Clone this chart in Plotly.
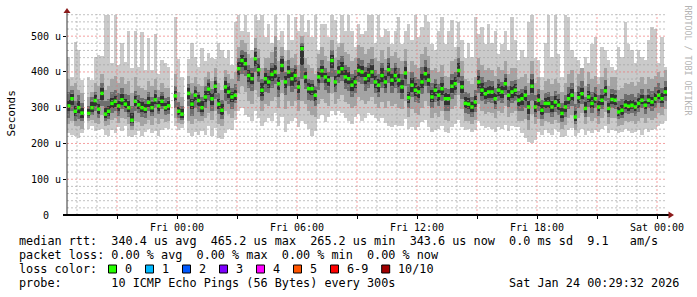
import plotly.graph_objects as go
import pandas as pd

# ---- data (seconds in microseconds, 10-minute steps starting Thu 2026-01-22 18:30) ----
med = [
    305, 325, 290, 300, 285, None, 284, 300, 320, 296,
    340, 282, 290, 312, 318, 305, 322, 310, 300, 265,
    318, 308, 300, 296, 315, 300, 322, 305, 318, 300,
    305, None, 333, 290, 282, None, 340, 310, 335, 320,
    300, 330, 352, 325, 360, 310, 293, 358, 344, 330,
    335, 409, 432, 423, 390, 381, 437, 406, 349, 381,
    372, 393, 400, 367, 418, 372, 400, 381, 390, 358,
    465, 386, 353, 353, 335, 386, 403, 386, 377, 432,
    372, 400, 409, 386, 381, 363, 372, 404, 400, 381,
    390, 400, 372, 363, 390, 372, 406, 377, 390, 377,
    358, 397, 328, 363, 349, 344, 372, 395, 377, 330,
    349, 335, 353, 325, 325, 360, 367, 404, 358, 312,
    310, 302, 316, 372, 349, 339, 344, 344, 325, 349,
    344, 367, 335, 344, 349, 321, 325, 335, 302, 360,
    302, 321, 293, 312, 312, 302, 316, 307, 284, 302,
    325, 335, 274, 328, 339, 298, 330, 312, 325, 302,
    321, 347, 298, 323, 321, 288, 293, 307, 304, 307,
    302, 312, 321, 307, 321, 316, 325, 335, 325, 344,
]
hi1 = [
    442, 385, 485, 460, 378, None, 386, 378, 442, 448,
    445, 558, 558, 425, 558, 420, 480, 428, 515, 410,
    515, 415, 512, 405, 495, 405, 505, 395, 432, 425,
    415, None, 555, 435, 385, None, 435, 480, 442, 415,
    468, 430, 452, 440, 435, 480, 462, 440, 462, 420,
    540, 558, 515, 558, 512, 462, 558, 545, 558, 498,
    535, 480, 558, 488, 515, 462, 558, 488, 555, 515,
    558, 512, 545, 498, 558, 462, 535, 535, 498, 558,
    545, 480, 558, 515, 558, 515, 470, 535, 505, 515,
    558, 558, 480, 558, 498, 520, 515, 478, 515, 555,
    478, 515, 535, 488, 558, 498, 525, 558, 540, 478,
    460, 515, 555, 478, 515, 545, 470, 540, 488, 440,
    480, 442, 555, 505, 525, 478, 535, 480, 515, 450,
    478, 515, 462, 555, 488, 432, 460, 442, 540, 558,
    440, 432, 385, 480, 558, 442, 558, 450, 386, 558,
    555, 460, 442, 432, 395, 442, 425, 478, 498, 385,
    470, 462, 432, 415, 405, 470, 442, 540, 478, 460,
    425, 460, 442, 432, 488, 525, 520, 425, 498, 415,
]
lo1 = [
    230, 225, 220, 215, 228, None, 240, 250, 235, 238,
    240, 225, 220, 238, 230, 245, 235, 250, 222, 218,
    225, 235, 220, 232, 240, 228, 235, 220, 238, 242,
    240, None, 248, 238, 242, None, 228, 222, 232, 225,
    235, 225, 248, 222, 242, 215, 212, 230, 240, 238,
    265, 290, 300, 280, 275, 262, 290, 270, 248, 260,
    270, 262, 285, 250, 275, 232, 255, 262, 270, 245,
    262, 255, 240, 220, 235, 268, 280, 260, 275, 290,
    280, 290, 285, 270, 262, 255, 275, 282, 262, 270,
    285, 280, 272, 262, 270, 258, 248, 245, 252, 250,
    250, 268, 240, 245, 238, 245, 260, 265, 245, 232,
    238, 240, 248, 232, 228, 245, 255, 265, 245, 238,
    240, 232, 238, 262, 250, 242, 245, 240, 232, 245,
    240, 252, 235, 248, 245, 246, 230, 215, 205, 200,
    210, 232, 225, 238, 230, 225, 240, 232, 218, 222,
    238, 242, 220, 230, 240, 225, 235, 228, 238, 232,
    240, 248, 230, 238, 235, 228, 232, 240, 236, 230,
    232, 238, 225, 240, 232, 238, 240, 250, 255, 262,
]
hi2 = [
    380, 360, 370, 350, 340, None, 330, 345, 370, 360,
    395, 350, 360, 380, 390, 370, 385, 365, 375, 340,
    385, 360, 355, 350, 375, 360, 380, 350, 370, 355,
    355, None, 395, 345, 330, None, 390, 370, 385, 365,
    360, 385, 400, 375, 410, 370, 350, 405, 395, 380,
    400, 470, 490, 480, 450, 440, 495, 465, 410, 440,
    440, 455, 500, 430, 470, 430, 460, 440, 450, 420,
    500, 440, 420, 410, 395, 450, 470, 445, 430, 490,
    440, 470, 480, 455, 450, 430, 440, 475, 470, 450,
    465, 470, 440, 430, 460, 435, 470, 445, 455, 440,
    430, 465, 400, 430, 420, 410, 450, 470, 445, 405,
    410, 400, 420, 390, 385, 430, 435, 470, 430, 380,
    375, 365, 385, 440, 420, 405, 410, 405, 390, 415,
    405, 430, 395, 410, 410, 380, 385, 395, 370, 430,
    370, 385, 350, 375, 380, 365, 380, 370, 345, 370,
    395, 405, 345, 395, 410, 360, 400, 380, 390, 365,
    385, 410, 360, 385, 385, 350, 355, 370, 365, 372,
    360, 372, 385, 365, 385, 380, 390, 400, 385, 405,
]
lo2 = [
    255, 262, 248, 250, 240, None, 262, 265, 258, 255,
    280, 248, 252, 265, 270, 258, 272, 268, 255, 238,
    262, 260, 250, 255, 265, 252, 270, 255, 268, 260,
    262, None, 270, 258, 255, None, 262, 255, 268, 262,
    262, 272, 285, 265, 292, 255, 250, 290, 282, 270,
    290, 340, 360, 345, 320, 310, 350, 330, 290, 310,
    305, 320, 330, 300, 340, 295, 318, 305, 318, 290,
    320, 310, 290, 280, 275, 310, 325, 312, 305, 340,
    310, 325, 335, 315, 310, 300, 305, 330, 322, 310,
    320, 330, 310, 300, 315, 300, 318, 305, 310, 300,
    295, 320, 275, 295, 285, 280, 300, 318, 305, 272,
    285, 275, 290, 265, 262, 295, 305, 335, 295, 262,
    262, 255, 265, 310, 290, 282, 288, 285, 270, 290,
    285, 305, 275, 285, 290, 262, 262, 268, 238, 282,
    255, 268, 248, 262, 260, 255, 265, 258, 240, 252,
    270, 280, 238, 272, 285, 255, 275, 262, 270, 255,
    270, 288, 255, 272, 270, 250, 252, 262, 260, 262,
    255, 262, 270, 258, 270, 265, 272, 285, 280, 295,
]
hi3 = [
    345, 350, 320, 335, 312, None, 305, 330, 345, 325,
    370, 320, 325, 345, 350, 340, 355, 338, 335, 305,
    348, 335, 328, 325, 345, 330, 350, 330, 345, 328,
    330, None, 360, 315, 305, None, 365, 340, 362, 345,
    330, 360, 380, 352, 385, 340, 322, 385, 370, 355,
    365, 440, 462, 455, 420, 410, 468, 438, 380, 412,
    405, 425, 470, 395, 445, 400, 432, 410, 420, 385,
    480, 410, 380, 378, 362, 412, 432, 410, 400, 460,
    405, 432, 445, 420, 415, 395, 405, 440, 432, 415,
    425, 435, 405, 395, 425, 405, 440, 410, 425, 410,
    395, 430, 365, 400, 385, 380, 415, 432, 412, 370,
    380, 365, 385, 355, 352, 395, 400, 438, 390, 345,
    340, 330, 350, 405, 385, 372, 378, 375, 355, 380,
    372, 395, 362, 375, 378, 348, 352, 362, 335, 395,
    335, 352, 322, 342, 345, 332, 348, 338, 312, 335,
    358, 370, 310, 362, 375, 330, 365, 345, 358, 335,
    352, 378, 328, 352, 350, 320, 325, 338, 335, 338,
    330, 342, 352, 336, 352, 348, 358, 368, 355, 375,
]
lo3 = [
    272, 290, 262, 268, 262, None, 270, 280, 290, 272,
    305, 262, 268, 285, 292, 278, 295, 288, 275, 248,
    290, 285, 275, 272, 290, 278, 298, 282, 295, 280,
    282, None, 300, 270, 265, None, 305, 278, 300, 288,
    278, 300, 318, 290, 325, 282, 268, 320, 310, 295,
    312, 375, 395, 388, 355, 348, 400, 372, 318, 345,
    340, 355, 365, 330, 378, 335, 360, 345, 352, 322,
    380, 352, 322, 318, 305, 350, 368, 350, 342, 385,
    345, 368, 375, 352, 348, 330, 340, 372, 365, 348,
    355, 365, 340, 330, 355, 340, 368, 342, 355, 340,
    325, 360, 298, 330, 315, 312, 338, 360, 340, 298,
    315, 305, 320, 292, 290, 325, 335, 370, 325, 285,
    282, 275, 288, 340, 318, 310, 315, 312, 295, 320,
    312, 335, 302, 312, 318, 290, 292, 298, 265, 318,
    275, 292, 268, 285, 285, 275, 288, 280, 260, 275,
    295, 305, 255, 298, 310, 275, 302, 285, 298, 278,
    295, 318, 275, 298, 295, 268, 272, 285, 282, 284,
    278, 288, 298, 282, 298, 292, 300, 312, 302, 320,
]
hi4 = [
    322, 338, 305, 318, 300, None, 296, 315, 335, 310,
    355, 300, 306, 328, 334, 320, 338, 325, 318, 285,
    332, 322, 315, 310, 330, 315, 338, 320, 332, 312,
    318, None, 348, 302, 295, None, 355, 325, 350, 335,
    318, 348, 368, 342, 375, 325, 310, 375, 360, 345,
    350, 428, 448, 440, 405, 398, 455, 422, 368, 398,
    390, 412, 420, 385, 435, 390, 418, 400, 408, 375,
    472, 400, 368, 366, 350, 400, 418, 398, 390, 448,
    390, 418, 428, 405, 400, 382, 390, 422, 418, 400,
    410, 420, 390, 380, 410, 390, 425, 395, 410, 395,
    378, 415, 345, 382, 368, 362, 395, 415, 395, 350,
    365, 350, 370, 340, 338, 378, 385, 425, 375, 330,
    326, 316, 334, 390, 368, 356, 362, 360, 342, 366,
    360, 382, 350, 360, 365, 336, 340, 350, 320, 380,
    320, 338, 308, 328, 330, 318, 334, 324, 300, 320,
    342, 352, 292, 345, 356, 315, 348, 330, 342, 318,
    336, 362, 312, 338, 335, 303, 308, 322, 319, 322,
    316, 326, 336, 320, 336, 330, 340, 350, 340, 358,
]
lo4 = [
    290, 308, 276, 285, 272, None, 276, 288, 305, 282,
    322, 270, 278, 298, 302, 292, 308, 298, 288, 258,
    305, 295, 288, 284, 302, 288, 310, 292, 306, 290,
    294, None, 318, 280, 272, None, 325, 295, 318, 305,
    288, 315, 335, 308, 342, 295, 280, 340, 328, 315,
    322, 392, 415, 405, 372, 365, 418, 390, 332, 365,
    355, 375, 382, 350, 400, 355, 382, 362, 372, 340,
    420, 370, 338, 336, 318, 368, 385, 370, 360, 410,
    358, 385, 392, 370, 365, 348, 356, 388, 385, 365,
    372, 382, 355, 345, 372, 355, 388, 360, 372, 358,
    340, 380, 312, 345, 332, 328, 355, 378, 360, 315,
    332, 320, 336, 308, 308, 342, 350, 385, 340, 298,
    296, 288, 302, 355, 332, 324, 328, 328, 310, 334,
    328, 350, 318, 328, 332, 305, 308, 318, 282, 340,
    288, 305, 280, 298, 298, 288, 302, 294, 272, 288,
    310, 320, 262, 312, 325, 285, 315, 300, 312, 290,
    308, 332, 285, 310, 308, 276, 280, 295, 292, 295,
    290, 300, 310, 295, 310, 305, 314, 324, 314, 332,
]

y_tick_vals = [0, 100, 200, 300, 400, 500]
y_tick_text = ["0\u00a0\u00a0", "100 u", "200 u", "300 u", "400 u", "500 u"]
x_tick_vals = ["2026-01-22 21:00", "2026-01-23 00:00", "2026-01-23 03:00", "2026-01-23 06:00",
               "2026-01-23 09:00", "2026-01-23 12:00", "2026-01-23 15:00", "2026-01-23 18:00",
               "2026-01-23 21:00", "2026-01-24 00:00"]
x_tick_text = ["", "Fri 00:00", "", "Fri 06:00", "", "Fri 12:00", "", "Fri 18:00", "", "Sat 00:00"]

legend_line1 = "median rtt:  340.4 us avg  465.2 us max  265.2 us min  343.6 us now  0.0 ms sd  9.1   am/s"
legend_line2 = "packet loss: 0.00 % avg  0.00 % max  0.00 % min  0.00 % now"
legend_line3 = "loss color:"
legend_line4 = "probe:       10 ICMP Echo Pings (56 Bytes) every 300s"
stamp = "Sat Jan 24 00:29:32 2026"
loss_labels = ["0", "1", "2", "3", "4", "5", "6-9", "10/10"]
loss_colors = ["#26ff00", "#00b8ff", "#0059ff", "#7e00ff", "#ff00ff", "#ff5500", "#ff0000", "#a10000"]

# ---- geometry ----
W, H = 697, 297
L, R, T, B = 67, 30, 14, 82
PW, PH = W - L - R, H - T - B
X0, X1 = "2026-01-22 18:30", "2026-01-24 00:30"
YMAX = 562
STEP_MIN = 10
MONO = "DejaVu Sans Mono"


def px(x):
    return (x - L) / PW


def py(y):
    return (T + PH - y) / PH


t = pd.date_range("2026-01-22 18:35", periods=len(med), freq=f"{STEP_MIN}min")

fig = go.Figure()
layers = [(lo1, hi1, "#cacaca"), (lo2, hi2, "#a4a4a4"), (lo3, hi3, "#6e6e6e"), (lo4, hi4, "#323232")]
for lo, hi, col in layers:
    fig.add_trace(go.Bar(
        x=t, base=lo,
        y=[None if a is None else b - a for a, b in zip(lo, hi)],
        width=STEP_MIN * 60 * 1000,
        marker=dict(color=col, line=dict(width=0)),
        hoverinfo="skip", showlegend=False,
    ))
fig.add_trace(go.Scatter(
    x=t, y=med, mode="markers",
    marker=dict(symbol="square", size=3.5, color="#26ff00", line=dict(width=0)),
    showlegend=False, hoverinfo="skip",
))

shapes = []
minor_c = "rgba(160,160,160,0.65)"
major_c = "rgba(240,110,110,0.65)"
for h in pd.date_range("2026-01-22 19:00", "2026-01-24 00:00", freq="1h"):
    shapes.append(dict(type="line", xref="x", yref="paper", x0=h, x1=h, y0=0, y1=1, layer="above",
                       line=dict(color=major_c if h.hour % 3 == 0 else minor_c, width=1, dash="2px,2px")))
for v in range(20, YMAX, 20):
    shapes.append(dict(type="line", xref="paper", yref="y", x0=0, x1=1, y0=v, y1=v, layer="above",
                       line=dict(color=major_c if v % 100 == 0 else minor_c, width=1, dash="2px,2px")))
# axis lines
shapes.append(dict(type="line", xref="paper", yref="paper", x0=0, x1=0, y0=0, y1=py(12), layer="above",
                   line=dict(color="#333333", width=1)))
shapes.append(dict(type="line", xref="paper", yref="paper", x0=px(63), x1=px(669), y0=0, y1=0, layer="above",
                   line=dict(color="black", width=2)))
# arrows
arrow_c = "#8b1a1a"
shapes.append(dict(type="path", xref="paper", yref="paper", layer="above", fillcolor=arrow_c, line=dict(width=0),
                   path=f"M {px(67)},{py(8)} L {px(63.5)},{py(13)} L {px(70.5)},{py(13)} Z"))
shapes.append(dict(type="path", xref="paper", yref="paper", layer="above", fillcolor=arrow_c, line=dict(width=0),
                   path=f"M {px(674)},{py(215)} L {px(668.5)},{py(211.5)} L {px(668.5)},{py(218.5)} Z"))

annotations = []
FS = 11.8
CW = 7.1


def txt(s, x, y, anchor="left", size=FS, color="black", angle=0):
    annotations.append(dict(text=s.replace(" ", "\u00a0"), x=px(x), y=py(y), xref="paper", yref="paper",
                            xanchor=anchor, yanchor="middle", showarrow=False, textangle=angle,
                            font=dict(family=MONO, size=size, color=color)))


txt(legend_line1, 16.5, 241)
txt(legend_line2, 16.5, 255)
txt(legend_line3, 16.5, 269)
txt(legend_line4, 16.5, 283)
txt(stamp, 681, 283, anchor="right")
txt("Seconds", 11, 113.5, anchor="center", size=11, angle=-90)
txt("RRDTOOL / TOBI OETIKER", 687.5, 60, anchor="center", size=8.3, color="#b4b4b4", angle=90)

bx = 108.5
for lab, col in zip(loss_labels, loss_colors):
    shapes.append(dict(type="rect", xref="paper", yref="paper", x0=px(bx), x1=px(bx + 8),
                       y0=py(273), y1=py(265), fillcolor=col, line=dict(color="black", width=1)))
    txt(lab, bx + 14.5, 269)
    bx += 29.9 + len(lab) * CW

fig.update_layout(
    width=W, height=H, margin=dict(l=L, r=R, t=T, b=B, pad=0),
    paper_bgcolor="white", plot_bgcolor="white",
    barmode="overlay", bargap=0,
    shapes=shapes, annotations=annotations,
    font=dict(family=MONO, size=10, color="black"),
    xaxis=dict(type="date", range=[X0, X1], showgrid=False, zeroline=False, showline=False,
               tickmode="array", tickvals=x_tick_vals, ticktext=x_tick_text,
               ticks="outside", ticklen=3, tickcolor="black", tickwidth=1,
               tickfont=dict(family=MONO, size=10, color="black"), fixedrange=True),
    yaxis=dict(range=[0, YMAX], showgrid=False, zeroline=False, showline=False,
               tickmode="array", tickvals=y_tick_vals, ticktext=y_tick_text,
               ticks="outside", ticklen=3, tickcolor="black", tickwidth=1,
               tickfont=dict(family=MONO, size=10, color="black"), fixedrange=True),
    showlegend=False,
)

fig.write_html("out.html")
